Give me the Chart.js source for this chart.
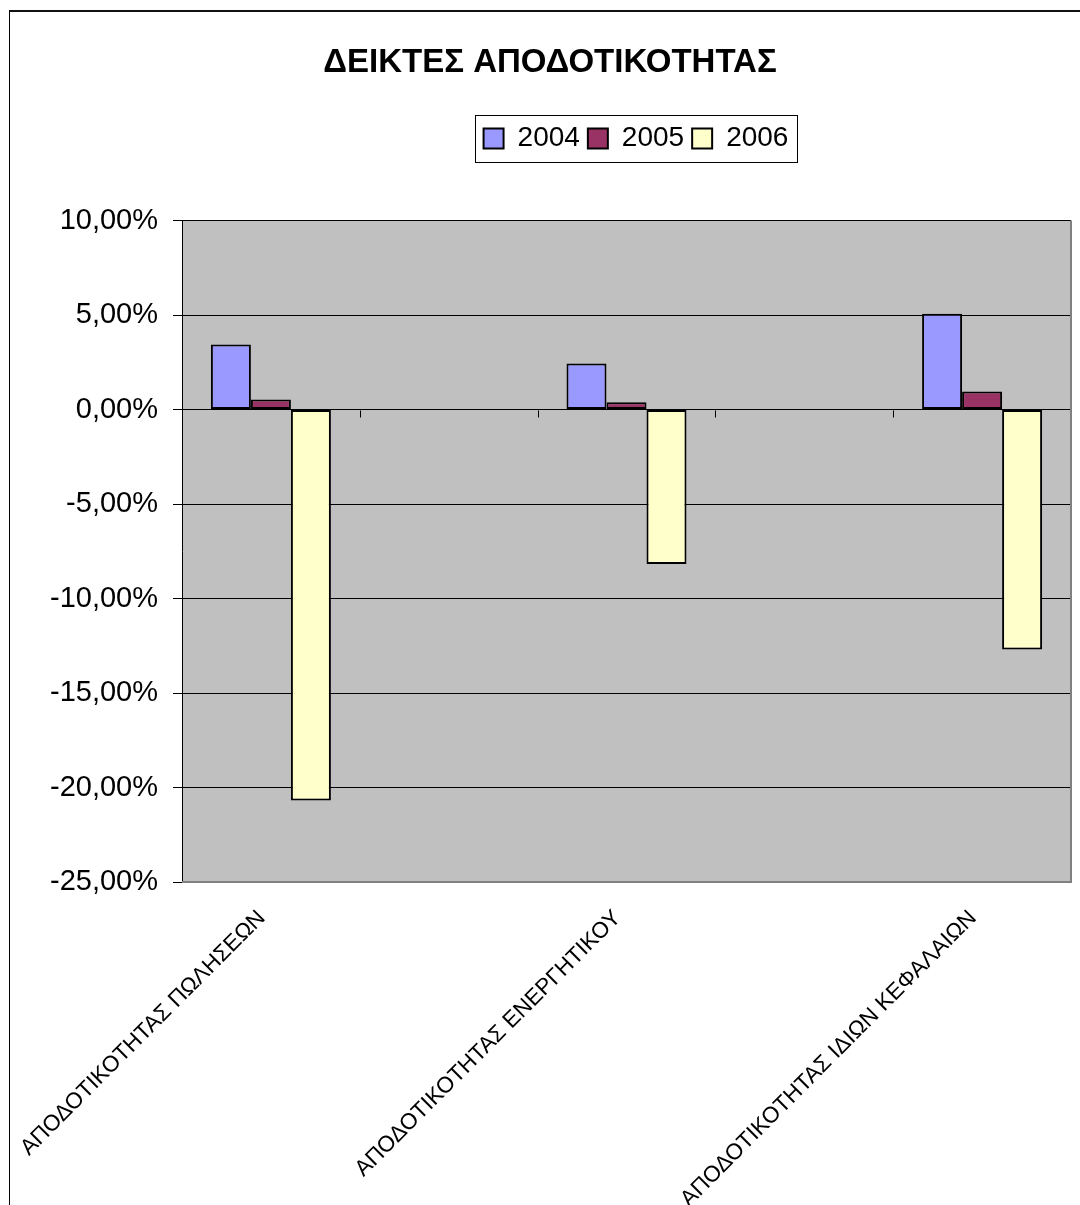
<!DOCTYPE html>
<html>
<head>
    <meta charset='utf-8'>
    <title>ΔΕΙΚΤΕΣ ΑΠΟΔΟΤΙΚΟΤΗΤΑΣ</title>
    <script src="https://cdn.jsdelivr.net/npm/chart.js@4.4.0/dist/chart.umd.min.js"></script>
    <style>
        html, body { margin: 0; padding: 0; background: #fff; overflow: hidden; }
        #wrap { position: relative; width: 1080px; height: 1205px; overflow: hidden; }
        #frame { position: absolute; left: 9px; top: 10px; width: 1200px; height: 1300px;
                 border-left: 1px solid #000; border-top: 2px solid #111; pointer-events: none; }
    </style>
</head>
<body>
<div id="wrap">
    <canvas id="grafico" width="1100" height="1205"></canvas>
    <div id="frame"></div>
</div>

<script>
    // datos (en %)
    var categorias = ['ΑΠΟΔΟΤΙΚΟΤΗΤΑΣ ΠΩΛΗΣΕΩΝ', '', 'ΑΠΟΔΟΤΙΚΟΤΗΤΑΣ ΕΝΕΡΓΗΤΙΚΟΥ', '', 'ΑΠΟΔΟΤΙΚΟΤΗΤΑΣ ΙΔΙΩΝ ΚΕΦΑΛΑΙΩΝ'];
    var anios = ['2004', '2005', '2006'];
    var v2004 = [3.44, null, 2.44, null, 5.07];
    var v2005 = [0.53, null, 0.39, null, 0.95];
    var v2006 = [-20.69, null, -8.17, null, -12.70];
    var yMin = -25, yMax = 10, yStep = 5;

    Chart.defaults.font.family = "'Liberation Sans', Arial, sans-serif";
    Chart.defaults.color = '#000';

    // la leyenda esta corrida a la derecha en el original
    var desplazaLeyenda = 86;

    // fondo gris del area de trazado + marco
    var fondo = {
        id: 'fondo',
        afterLayout: function (chart) {
            chart.legend.left += desplazaLeyenda;
            chart.legend.right += desplazaLeyenda;
        },
        beforeDraw: function (chart) {
            var a = chart.chartArea, ctx = chart.ctx;
            ctx.save();
            ctx.fillStyle = '#C0C0C0';
            ctx.fillRect(a.left, a.top, a.right - a.left, a.bottom - a.top);
            ctx.restore();
        },
        afterDraw: function (chart) {
            var a = chart.chartArea, ctx = chart.ctx;
            var x = chart.scales.x, y = chart.scales.y;
            ctx.save();
            // marco gris derecha / abajo
            ctx.strokeStyle = '#808080';
            ctx.lineWidth = 2;
            ctx.beginPath();
            ctx.moveTo(a.right, a.top);
            ctx.lineTo(a.right, a.bottom);
            ctx.lineTo(a.left, a.bottom);
            ctx.stroke();
            // eje de categorias en el cero, con marcas entre categorias
            var y0 = Math.round(y.getPixelForValue(0)) + 0.5;
            var paso = x.getPixelForValue(1) - x.getPixelForValue(0);
            ctx.strokeStyle = '#000';
            ctx.lineWidth = 1;
            ctx.beginPath();
            for (var i = 0; i < categorias.length - 1; i++) {
                var xt = Math.round(x.getPixelForValue(i) + paso / 2) + 0.5;
                ctx.moveTo(xt, y0);
                ctx.lineTo(xt, y0 + 7);
            }
            ctx.stroke();
            // recuadro de la leyenda
            var hb = chart.legend.legendHitBoxes;
            if (hb && hb.length) {
                var l = hb[0].left - 9;
                var r = hb[hb.length - 1].left + hb[hb.length - 1].width + 8;
                var t = hb[0].top - 10;
                var b = hb[0].top + hb[0].height + 9;
                ctx.strokeStyle = '#000';
                ctx.lineWidth = 1;
                ctx.strokeRect(Math.round(l) + 0.5, Math.round(t) + 0.5, Math.round(r - l), Math.round(b - t));
            }
            ctx.restore();
        }
    };

    function CrearGrafico() {
        var ctx = document.getElementById('grafico').getContext('2d');
        var myChart = new Chart(ctx, {
            type: 'bar',
            data: {
                labels: categorias,
                datasets: [{
                    label: anios[0],
                    data: v2004,
                    backgroundColor: '#9999FF',
                    borderColor: '#000',
                    borderWidth: 2,
                    borderSkipped: false
                },
                {
                    label: anios[1],
                    data: v2005,
                    backgroundColor: '#993366',
                    borderColor: '#000',
                    borderWidth: 2,
                    borderSkipped: false
                },
                {
                    label: anios[2],
                    data: v2006,
                    backgroundColor: '#FFFFCC',
                    borderColor: '#000',
                    borderWidth: 2,
                    borderSkipped: false
                }]
            },
            options: {
                responsive: false,
                animation: false,
                datasets: {
                    bar: { categoryPercentage: 0.675, barPercentage: 1.0 }
                },
                layout: { padding: { left: 29, right: 29, top: 0, bottom: 0 } },
                plugins: {
                    title: {
                        display: true,
                        text: 'ΔΕΙΚΤΕΣ ΑΠΟΔΟΤΙΚΟΤΗΤΑΣ',
                        font: { size: 33, weight: 'bold', lineHeight: 1.2 },
                        color: '#000',
                        padding: { top: 43, bottom: 34 }
                    },
                    subtitle: {
                        display: true,
                        text: '',
                        weight: 500,
                        font: { size: 10, lineHeight: 1 },
                        padding: { top: 0, bottom: 48 }
                    },
                    legend: {
                        display: true,
                        position: 'top',
                        labels: {
                            font: { size: 28 },
                            color: '#000',
                            boxWidth: 20,
                            boxHeight: 20,
                            padding: 8
                        }
                    },
                    tooltip: { enabled: false }
                },
                scales: {
                    x: {
                        grid: { display: false },
                        border: { display: false },
                        ticks: {
                            autoSkip: false,
                            maxRotation: 45,
                            minRotation: 45,
                            padding: 15,
                            labelOffset: -9,
                            font: { size: 22.5 },
                            color: '#000'
                        },
                        afterFit: function (scale) { scale.height = 323; }
                    },
                    y: {
                        min: yMin,
                        max: yMax,
                        grid: { color: '#000', lineWidth: 1, tickLength: 9, tickColor: '#000' },
                        border: { display: true, color: '#000', width: 1 },
                        ticks: {
                            stepSize: yStep,
                            padding: 15,
                            font: { size: 29 },
                            color: '#000',
                            callback: function (v) { return v.toFixed(2).replace('.', ',') + '%'; }
                        },
                        afterFit: function (scale) { scale.width = 153; }
                    }
                }
            },
            plugins: [fondo]
        });
        return myChart;
    }

    CrearGrafico();
</script>
</body>
</html>
